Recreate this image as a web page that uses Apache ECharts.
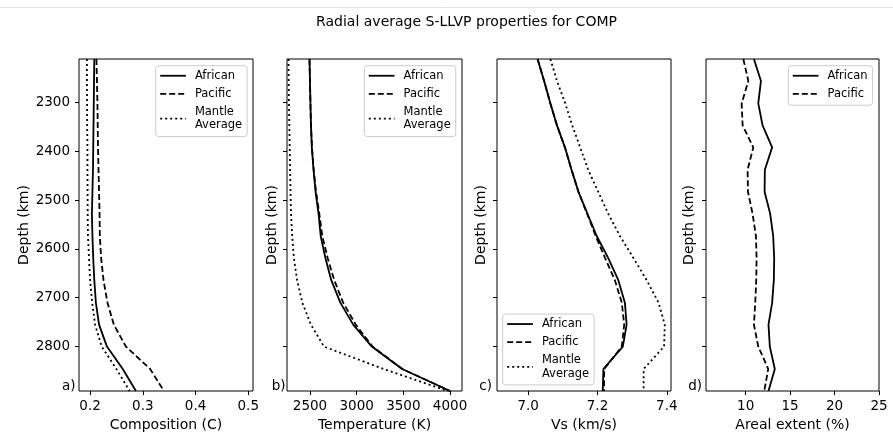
<!DOCTYPE html>
<html><head><meta charset="utf-8">
<script src="https://cdn.jsdelivr.net/npm/echarts@6/dist/echarts.min.js"></script>
<style>html,body{margin:0;padding:0;background:#fff}#c{width:893px;height:439px}</style>
</head><body><div id="c"></div>
<script>
// Depth levels (km)
const depthKm = [2211, 2256, 2302, 2347, 2392, 2438, 2483, 2528, 2574, 2619, 2664, 2710, 2755, 2800, 2846, 2891];
const depthTicks = [2300, 2400, 2500, 2600, 2700, 2800];

// a) Composition (C)
const compAfrican = [0.208, 0.2075, 0.207, 0.2065, 0.206, 0.2055, 0.2045, 0.2035, 0.2045, 0.206, 0.208, 0.211, 0.217, 0.232, 0.262, 0.287];
const compPacific = [0.212, 0.213, 0.214, 0.2145, 0.215, 0.216, 0.217, 0.218, 0.2185, 0.221, 0.2255, 0.233, 0.245, 0.268, 0.314, 0.340];
const compMantle  = [0.194, 0.194, 0.1943, 0.1945, 0.195, 0.195, 0.1953, 0.1955, 0.196, 0.198, 0.200, 0.204, 0.2095, 0.222, 0.250, 0.275];
const compTicks = [0.2, 0.3, 0.4, 0.5];

// b) Temperature (K)
const tempAfrican = [2495, 2500, 2505, 2511, 2520, 2538, 2560, 2592, 2615, 2666, 2728, 2825, 2963, 3162, 3487, 4000];
const tempPacific = [2495, 2500, 2505, 2511, 2521, 2540, 2565, 2600, 2632, 2690, 2760, 2855, 2990, 3170, 3490, 4000];
const tempMantle  = [2270, 2272, 2275, 2279, 2283, 2287, 2292, 2297, 2310, 2328, 2362, 2418, 2510, 2650, 3290, 3975];
const tempTicks = [2500, 3000, 3500, 4000];

// c) Vs (km/s)
const vsAfrican = [7.027, 7.046, 7.064, 7.083, 7.106, 7.125, 7.145, 7.171, 7.198, 7.231, 7.260, 7.279, 7.284, 7.273, 7.217, 7.215];
const vsPacific = [7.027, 7.046, 7.064, 7.083, 7.106, 7.125, 7.145, 7.170, 7.195, 7.222, 7.250, 7.270, 7.277, 7.270, 7.219, 7.219];
const vsMantle  = [7.064, 7.083, 7.107, 7.127, 7.150, 7.173, 7.202, 7.231, 7.265, 7.304, 7.342, 7.376, 7.394, 7.392, 7.333, 7.333];
const vsTicks = [7.0, 7.2, 7.4];

// d) Areal extent (%)
const arealAfrican = [10.93, 11.72, 11.42, 11.90, 12.98, 12.16, 12.13, 12.76, 13.10, 13.21, 13.17, 12.98, 12.57, 12.72, 13.28, 12.57];
const arealPacific = [9.74, 10.30, 9.55, 9.66, 10.86, 10.22, 10.26, 10.78, 11.16, 11.23, 11.19, 11.08, 10.93, 11.42, 12.54, 12.09];
const arealTicks = [10, 15, 20, 25];

const FONT = 'DejaVu Sans';
const panels = [
  {left: 79, width: 174, min: 0.179, max: 0.509, ticks: compTicks, name: 'Composition (C)', fmt: v => v.toFixed(1), yLabels: true, yGap: 48, tag: 'a)', tagX: 75.5,
   series: [['African', compAfrican], ['Pacific', compPacific], ['Mantle Average', compMantle]], legend: {left: 155.7, top: 65.7}},
  {left: 287, width: 175, min: 2254, max: 4128, ticks: tempTicks, name: 'Temperature (K)', fmt: v => String(v), yLabels: false, yGap: 8, tag: 'b)', tagX: 285.5,
   series: [['African', tempAfrican], ['Pacific', tempPacific], ['Mantle Average', tempMantle]], legend: {left: 364.3, top: 65.7}},
  {left: 497, width: 174, min: 6.91, max: 7.412, ticks: vsTicks, name: 'Vs (km/s)', fmt: v => v.toFixed(1), yLabels: false, yGap: 9, tag: 'c)', tagX: 492,
   series: [['African', vsAfrican], ['Pacific', vsPacific], ['Mantle Average', vsMantle]], legend: {left: 502.7, top: 314}},
  {left: 706, width: 173, min: 5.54, max: 25, ticks: arealTicks, name: 'Areal extent (%)', fmt: v => String(v), yLabels: false, yGap: 9.5, tag: 'd)', tagX: 702,
   series: [['African', arealAfrican], ['Pacific', arealPacific]], legend: {left: 788.3, top: 65.7}}
];
const styles = {
  'African': {type: 'solid'},
  'Pacific': {type: [6, 3]},
  'Mantle Average': {type: [2, 3]}
};

const grid = [], xAxis = [], yAxis = [], series = [], legend = [], graphic = [];
panels.forEach((p, i) => {
  grid.push({left: p.left, top: 59, width: p.width, height: 332, show: true, borderColor: '#000', borderWidth: 1, backgroundColor: 'transparent'});
  xAxis.push({
    gridIndex: i, type: 'value', min: p.min, max: p.max,
    name: p.name, nameLocation: 'middle', nameGap: 24,
    nameTextStyle: {fontFamily: FONT, fontSize: 14, color: '#000'},
    axisLine: {show: false}, splitLine: {show: false},
    axisTick: {show: true, length: 4, customValues: p.ticks, lineStyle: {color: '#000', width: 1}},
    axisLabel: {show: true, customValues: p.ticks, margin: 8, fontFamily: FONT, fontSize: 13.5, color: '#000', formatter: p.fmt}
  });
  yAxis.push({
    gridIndex: i, type: 'value', inverse: true, min: 2211, max: 2891,
    name: 'Depth (km)', nameLocation: 'middle', nameGap: p.yGap,
    nameTextStyle: {fontFamily: FONT, fontSize: 14, color: '#000'},
    axisLine: {show: false}, splitLine: {show: false},
    axisTick: {show: true, length: 4, customValues: depthTicks, lineStyle: {color: '#000', width: 1}},
    axisLabel: {show: p.yLabels, customValues: depthTicks, margin: 9, fontFamily: FONT, fontSize: 13.5, color: '#000', formatter: v => String(v)}
  });
  p.series.forEach(([nm, vals]) => {
    series.push({
      type: 'line', name: nm, xAxisIndex: i, yAxisIndex: i,
      data: depthKm.map((d, k) => [vals[k], d]),
      symbol: 'none', showSymbol: false, silent: true, animation: false,
      lineStyle: {color: '#000', width: 1.8, type: styles[nm].type, cap: 'butt'},
      itemStyle: {color: '#000'}
    });
  });
  legend.push({
    orient: 'vertical', left: p.legend.left, top: p.legend.top,
    data: p.series.map(s => s[0]),
    padding: [3.4, 5, 4.7, 3.6], itemWidth: 25.7, itemHeight: 12, itemGap: 4.8,
    borderColor: '#cccccc', borderWidth: 1, borderRadius: 3, backgroundColor: 'rgba(255,255,255,0.8)',
    lineStyle: {width: 1.8},
    itemStyle: {opacity: 0, color: 'rgba(0,0,0,0)', borderColor: 'rgba(0,0,0,0)', borderWidth: 0},
    formatter: n => n === 'Mantle Average' ? 'Mantle\nAverage' : n,
    textStyle: {fontFamily: FONT, fontSize: 11.5, color: '#000', lineHeight: 13.3, padding: [0, 0, 0, 4]}
  });
  graphic.push({type: 'text', x: p.tagX, y: 386, style: {text: p.tag, fontFamily: FONT, fontSize: 13.5, fill: '#000', align: 'right', verticalAlign: 'middle'}});
});
graphic.push({type: 'line', shape: {x1: 0, y1: 7.5, x2: 893, y2: 7.5}, style: {stroke: '#e6e6e6', lineWidth: 1}});

const chart = echarts.init(document.getElementById('c'), null, {renderer: 'canvas'});
chart.setOption({
  animation: false,
  backgroundColor: '#fff',
  title: {text: 'Radial average S-LLVP properties for COMP', left: 466.5, top: 15, textAlign: 'center', padding: 0,
          textStyle: {fontFamily: FONT, fontSize: 14, fontWeight: 'normal', color: '#000'}},
  grid, xAxis, yAxis, series, legend, graphic
});
</script>
</body></html>
